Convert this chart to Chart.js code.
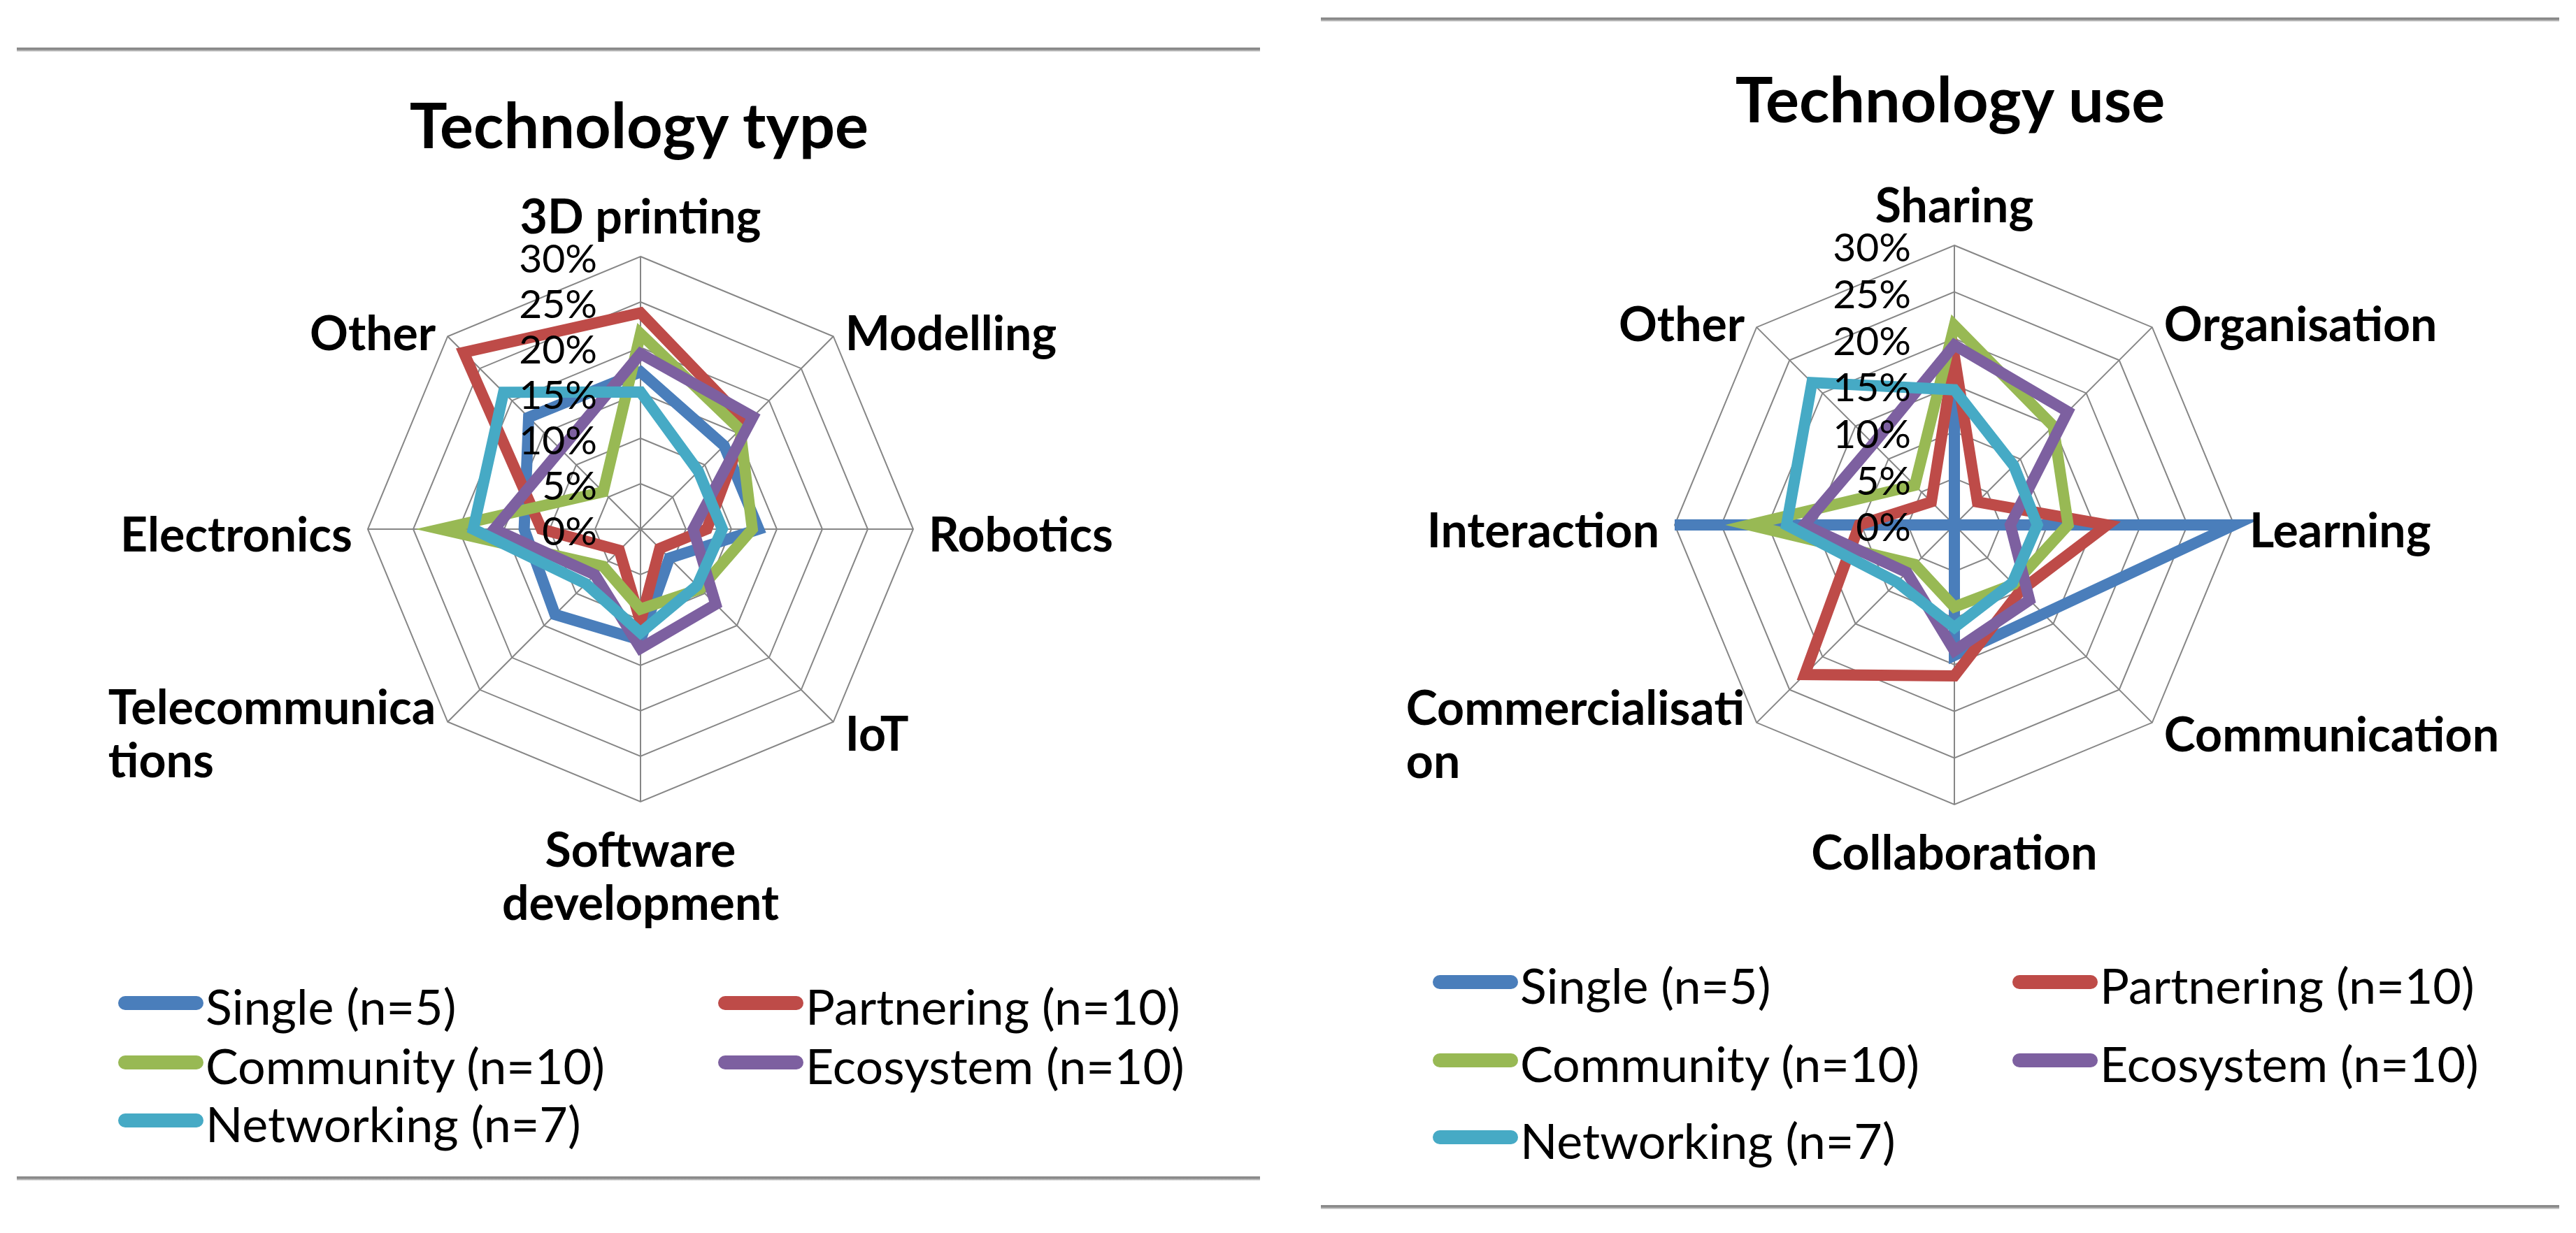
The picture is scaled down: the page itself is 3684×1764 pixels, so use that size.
<!DOCTYPE html>
<html>
<head>
<meta charset="utf-8">
<title>Technology type and technology use</title>
<script src="https://cdn.jsdelivr.net/npm/chart.js@4.4.1/dist/chart.umd.min.js"></script>
<style>
    html, body { margin: 0; padding: 0; background: #fff; }
    body {
        width: 3684px; height: 1764px; position: relative; overflow: hidden;
        font-family: Lato, 'Open Sans', sans-serif; color: #000;
    }
    .rule {
        position: absolute; height: 6px;
        background: linear-gradient(#8a8a8a 0, #8a8a8a 45%, #b8b8b8 75%, #ededed 100%);
    }
    .title {
        position: absolute; font-weight: 700; font-size: 90px; line-height: 90px;
        white-space: nowrap; transform: translateX(-50%);
    }
    canvas { position: absolute; top: 0; }
    .legend-item {
        position: absolute; height: 80px; display: flex; align-items: center;
        font-size: 70px; line-height: 70px; white-space: nowrap;
    }
    .legend-item .swatch { width: 122px; height: 20px; border-radius: 10px; margin-right: 3px; }
    .legend-item span { position: relative; top: 4px; }
</style>
</head>
<body>

<div class="rule" style="left:24px; width:1778px; top:68px;"></div>
<div class="rule" style="left:24px; width:1778px; top:1683px;"></div>
<div class="rule" style="left:1889px; width:1771px; top:25px;"></div>
<div class="rule" style="left:1889px; width:1771px; top:1724px;"></div>

<div class="title" style="left:914px; top:132px;">Technology type</div>
<div class="title" style="left:2789px; top:95px;">Technology use</div>

<canvas id="typeChart" width="1845" height="1764" style="left:0;"></canvas>
<canvas id="useChart" width="1839" height="1764" style="left:1845px;"></canvas>

<div id="typeLegend"></div>
<div id="useLegend"></div>

<script>
// --- Data ---
const typeCategories = ['3D printing', 'Modelling', 'Robotics', 'IoT', ['Software', 'development'],
    ['Telecommunica', 'tions'], 'Electronics', 'Other'];
const useCategories = ['Sharing', 'Organisation', 'Learning', 'Communication', 'Collaboration',
    ['Commercialisati', 'on'], 'Interaction', 'Other'];

const seriesNames = ['Single (n=5)', 'Partnering (n=10)', 'Community (n=10)', 'Ecosystem (n=10)', 'Networking (n=7)'];
const seriesColors = ['#4a7ebb', '#be4b48', '#98b954', '#7d60a0', '#46aac5'];

const tickValues = [0, 5, 10, 15, 20, 25, 30];
const tickLabels = ['0%', '5%', '10%', '15%', '20%', '25%', '30%'];

// Technology type, % of mentions
const typeSingle = [17.3, 13, 13, 4.5, 12.2, 13.3, 12.8, 17.4];
const typePartnering = [23.8, 16.5, 7.3, 3, 10.2, 3.3, 10.9, 27.5];
const typeCommunity = [21.5, 15.5, 12.3, 9.3, 8.8, 5.8, 22, 5.8];
const typeEcosystem = [19.3, 17.5, 5.8, 11.7, 13.1, 7.1, 16.1, 12.4];
const typeNetworking = [15.1, 9, 9, 8.8, 11.4, 8.5, 18.4, 21.3];

// Technology use, % of mentions
const useSingle = [16, 0, 30, 13.5, 14, 0, 30, 0];
const usePartnering = [18.1, 3.5, 16.4, 10, 16.2, 22.7, 10.2, 3.5];
const useCommunity = [21.4, 15, 12.2, 9, 8.8, 6, 22, 6];
const useEcosystem = [19.3, 17.2, 6, 11.4, 13.5, 7.2, 16.1, 12.3];
const useNetworking = [14.5, 9, 8.9, 8.8, 11, 8.7, 18, 21.6];

// --- Text sizes ---
const LABEL_FONT = 68;
const LABEL_LINE = 76;
const TICK_FONT = 57;
const CAP = 0.716; // Lato cap height / em

// Excel-like placement of the axis labels and the percentage ticks
const excelLabels = {
    id: 'excelLabels',
    afterDatasetsDraw(chart) {
        const s = chart.scales.r;
        const ctx = chart.ctx;
        ctx.save();
        ctx.fillStyle = '#000';

        // tick labels sit left of the vertical axis, over the lines
        ctx.font = `400 ${TICK_FONT}px Lato`;
        ctx.textAlign = 'right';
        ctx.textBaseline = 'alphabetic';
        tickValues.forEach((v, i) => {
            const y = s.yCenter - s.getDistanceFromCenterForValue(v);
            ctx.fillText(tickLabels[i], s.xCenter - 62, y + 3 + TICK_FONT * CAP / 2);
        });

        // category labels
        ctx.font = `700 ${LABEL_FONT}px Lato`;
        const capH = LABEL_FONT * CAP;
        chart.data.labels.forEach((label, i) => {
            const lines = Array.isArray(label) ? label : [label];
            const n = lines.length;
            const p = s.getPointPosition(i, s.drawingArea);
            const dx = p.x - s.xCenter;
            const dy = p.y - s.yCenter;
            const blockW = Math.max(...lines.map(l => ctx.measureText(l).width));

            let firstBaseline;
            if (dy < -s.drawingArea * 0.9) {
                firstBaseline = p.y - 33 - (n - 1) * LABEL_LINE;
            } else if (dy > s.drawingArea * 0.9) {
                firstBaseline = p.y + 44 + capH;
            } else {
                const centre = p.y + (Math.abs(dy) < 2 ? 8 : (dy < 0 ? -5 : 17));
                firstBaseline = centre - (n - 1) / 2 * LABEL_LINE + capH / 2;
            }

            const gap = Math.abs(dy) < 2 ? 22 : 17;
            lines.forEach((line, k) => {
                let x;
                if (Math.abs(dx) < 2) {
                    ctx.textAlign = 'center';
                    x = p.x;
                } else {
                    ctx.textAlign = 'left';
                    x = dx > 0 ? p.x + gap : p.x - gap - blockW;
                }
                ctx.fillText(line, x, firstBaseline + k * LABEL_LINE);
            });
        });
        ctx.restore();
    }
};

function makeRadar(canvasId, labels, series, padding) {
    const ctx = document.getElementById(canvasId).getContext('2d');
    return new Chart(ctx, {
        type: 'radar',
        data: {
            labels: labels,
            datasets: series.map((values, i) => ({
                label: seriesNames[i],
                data: values,
                borderColor: seriesColors[i],
                backgroundColor: seriesColors[i],
                borderWidth: 16,
                borderJoinStyle: 'miter',
                pointRadius: 0,
                pointHoverRadius: 0,
                fill: false,
                tension: 0,
                order: series.length - i // later series on top, like Excel
            }))
        },
        options: {
            responsive: false,
            animation: false,
            events: [],
            layout: { padding: padding },
            plugins: {
                legend: { display: false },
                tooltip: { enabled: false }
            },
            scales: {
                r: {
                    min: 0,
                    max: 30,
                    ticks: { stepSize: 5, display: false },
                    grid: { color: '#868686', lineWidth: 2 },
                    angleLines: { color: '#868686', lineWidth: 2 },
                    pointLabels: { display: false }
                }
            }
        },
        plugins: [excelLabels]
    });
}

function buildLegend(containerId, left, col2, rows) {
    const box = document.getElementById(containerId);
    seriesNames.forEach((name, i) => {
        const item = document.createElement('div');
        item.className = 'legend-item';
        item.style.left = (i % 2 === 0 ? left : col2) + 'px';
        item.style.top = (rows[Math.floor(i / 2)] - 40) + 'px';
        const sw = document.createElement('div');
        sw.className = 'swatch';
        sw.style.background = seriesColors[i];
        const txt = document.createElement('span');
        txt.textContent = name;
        item.appendChild(sw);
        item.appendChild(txt);
        box.appendChild(item);
    });
}

// centre (916, 757), radius 390
makeRadar('typeChart', typeCategories,
    [typeSingle, typePartnering, typeCommunity, typeEcosystem, typeNetworking],
    { left: 526, right: 539, top: 367, bottom: 617 });

// centre (2795, 751), radius 400 -> local x 950
makeRadar('useChart', useCategories,
    [useSingle, usePartnering, useCommunity, useEcosystem, useNetworking],
    { left: 550, right: 489, top: 351, bottom: 613 });

buildLegend('typeLegend', 169, 1027, [1435, 1520, 1603]);
buildLegend('useLegend', 2049, 2878, [1405, 1517, 1627]);
</script>
</body>
</html>
